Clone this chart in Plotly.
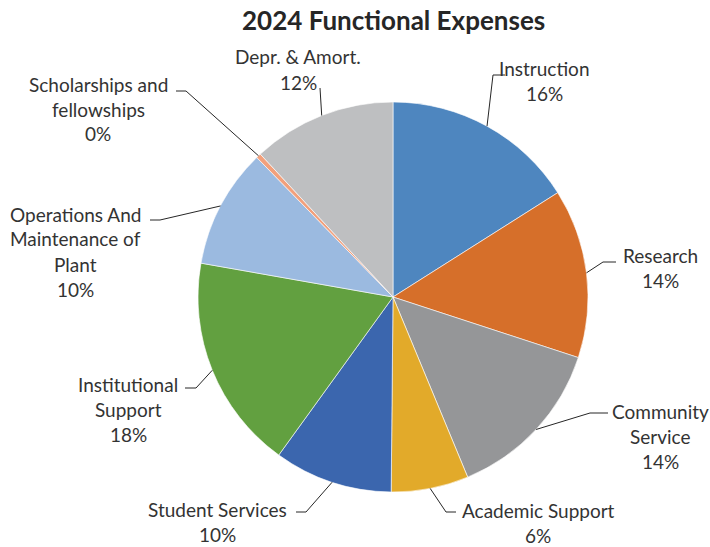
import math
import plotly.graph_objects as go

# Functional expense categories, clockwise from 12 o'clock
categories = [
    "Instruction", "Research", "Community Service", "Academic Support",
    "Student Services", "Institutional Support",
    "Operations And Maintenance of Plant", "Scholarships and fellowships",
    "Depr. & Amort.",
]
shares = [16.0, 14.0, 13.7, 6.4, 9.8, 17.8, 9.9, 0.4, 11.9]
colors = ["#4E86BF", "#D66F2A", "#959698", "#E2AA2A", "#3B66AE",
          "#62A040", "#9BBAE0", "#F2A07C", "#BEBFC1"]

# Label text lines as wrapped in the chart
label_lines = [
    ["Instruction"], ["Research"], ["Community", "Service"],
    ["Academic Support"], ["Student Services"], ["Institutional", "Support"],
    ["Operations And", "Maintenance of", "Plant"],
    ["Scholarships and", "fellowships"], ["Depr. & Amort."],
]

W, H = 710, 547
CX, CY, R = 393, 297, 195

# Label block placement (px): centre x, first line y, and leader elbow/end points
label_pos = [
    (544, 68), (660, 255), (660, 411), (538, 510), (218, 509),
    (128, 384), (75, 214), (98, 84), (298, 57),
]
leader = [
    [(493, 75), (505, 75)],
    [(603, 262), (616, 262)],
    [(590, 413), (608, 413)],
    [(446, 512), (456, 512)],
    [(306, 512), (296, 512)],
    [(196, 388), (185, 388)],
    [(160, 220), (150, 220)],
    [(186, 91), (176, 91)],
    [(320, 88)],
]
LINE_GAP = 25
FONT = "Lato"

fig = go.Figure(go.Pie(
    labels=categories,
    values=shares,
    sort=False,
    direction="clockwise",
    rotation=0,
    textinfo="none",
    hoverinfo="label+percent",
    marker=dict(colors=colors, line=dict(color="white", width=0.6)),
    domain=dict(x=[(CX - R) / W, (CX + R) / W],
                y=[1 - (CY + R) / H, 1 - (CY - R) / H]),
    showlegend=False,
))


def px(x, y):
    return x / W, 1 - y / H


total = sum(shares)
annotations = []
shapes = []
cum = 0.0
for name_lines, v, (lx, ly), pts in zip(label_lines, shares, label_pos, leader):
    mid = (cum + v / 2) / total * 2 * math.pi
    cum += v
    ex = CX + R * math.sin(mid)
    ey = CY - R * math.cos(mid)
    path_pts = [(ex, ey)] + pts
    d = "M " + " L ".join(f"{px(a, b)[0]},{px(a, b)[1]}" for a, b in path_pts)
    shapes.append(dict(type="path", xref="paper", yref="paper", path=d,
                       line=dict(color="#262626", width=1)))
    lines = name_lines + [f"{round(v / total * 100)}%"]
    for i, t in enumerate(lines):
        x, y = px(lx, ly + i * LINE_GAP)
        annotations.append(dict(
            x=x, y=y, xref="paper", yref="paper", text=t, showarrow=False,
            xanchor="center", yanchor="middle", borderpad=0,
            font=dict(family=FONT, size=19, color="#333333"),
        ))

tx, ty = px(393, 20)
annotations.append(dict(
    x=tx, y=ty, xref="paper", yref="paper",
    text="<b>2024 Functional Expenses</b>", showarrow=False,
    xanchor="center", yanchor="middle", borderpad=0,
    font=dict(family=FONT, size=26, color="#262626"),
))

fig.update_layout(
    width=W, height=H,
    margin=dict(l=0, r=0, t=0, b=0),
    paper_bgcolor="white", plot_bgcolor="white",
    annotations=annotations, shapes=shapes,
)

fig.write_html("out.html")
